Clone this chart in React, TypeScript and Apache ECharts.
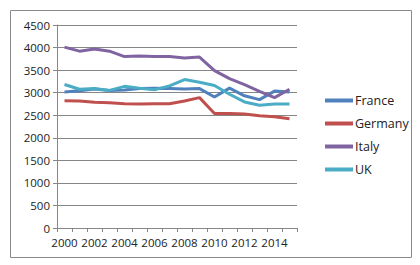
import React, { useEffect, useRef } from "react";
import * as echarts from "echarts";

const years = ["2000","2001","2002","2003","2004","2005","2006","2007","2008","2009","2010","2011","2012","2013","2014","2015"];
const france = [3015, 3040, 3080, 3050, 3060, 3090, 3100, 3090, 3080, 3090, 2905, 3100, 2930, 2845, 3035, 3015];
const germany = [2820, 2815, 2790, 2775, 2755, 2750, 2755, 2755, 2815, 2890, 2540, 2540, 2525, 2490, 2465, 2420];
const italy = [4010, 3920, 3970, 3920, 3800, 3815, 3800, 3800, 3770, 3790, 3490, 3310, 3180, 3030, 2890, 3075];
const uk = [3180, 3075, 3090, 3050, 3140, 3100, 3065, 3150, 3290, 3230, 3160, 2965, 2795, 2720, 2750, 2750];

const seriesNames = ["France", "Germany", "Italy", "UK"];
const colors = ["#4F81BD", "#C0504D", "#8064A2", "#4BACC6"];

export default function App() {
  const ref = useRef<HTMLDivElement>(null);
  useEffect(() => {
    if (!ref.current) return;
    const chart = echarts.init(ref.current, null, { renderer: "svg" });
    const font = "Open Sans";
    const data = [france, germany, italy, uk];
    chart.setOption({
      animation: false,
      backgroundColor: "#ffffff",
      color: colors,
      textStyle: { fontFamily: font },
      grid: { left: 57, right: 123, top: 25, bottom: 37, containLabel: false },
      graphic: [
        {
          type: "rect",
          shape: { x: 10.5, y: 10.5, width: 401, height: 247 },
          style: { fill: "none", stroke: "#8a8a8a", lineWidth: 1 },
          silent: true,
        },
      ],
      legend: {
        orient: "vertical",
        left: 320,
        top: 87,
        itemWidth: 28,
        itemHeight: 4,
        itemGap: 6,
        icon: "rect",
        data: seriesNames,
        textStyle: { fontFamily: font, fontSize: 12.5, color: "#222", padding: [0, 0, 0, -3], lineHeight: 17 },
      },
      xAxis: {
        type: "category",
        data: years,
        boundaryGap: true,
        axisLine: { lineStyle: { color: "#868686", width: 1 } },
        axisTick: { show: true, interval: 0, length: 4, lineStyle: { color: "#868686" } },
        axisLabel: { interval: 1, color: "#222", fontSize: 11.5, fontFamily: font, margin: 8 },
        splitLine: { show: false },
      },
      yAxis: {
        type: "value",
        min: 0,
        max: 4500,
        interval: 500,
        axisLine: { show: true, lineStyle: { color: "#868686", width: 1 } },
        axisTick: { show: true, length: 4, lineStyle: { color: "#868686" } },
        axisLabel: { color: "#222", fontSize: 11.5, fontFamily: font, margin: 7, formatter: (v: number) => String(v) },
        splitLine: { show: true, lineStyle: { color: "#868686", width: 1 } },
      },
      series: seriesNames.map((name, i) => ({
        name,
        type: "line",
        data: data[i],
        symbol: "none",
        lineStyle: { width: 3, color: colors[i] },
        itemStyle: { color: colors[i] },
      })),
    });
    return () => chart.dispose();
  }, []);
  return (
    <div
      ref={ref}
      style={{ position: "fixed", left: 0, top: 0, width: 420, height: 265 }}
    />
  );
}
